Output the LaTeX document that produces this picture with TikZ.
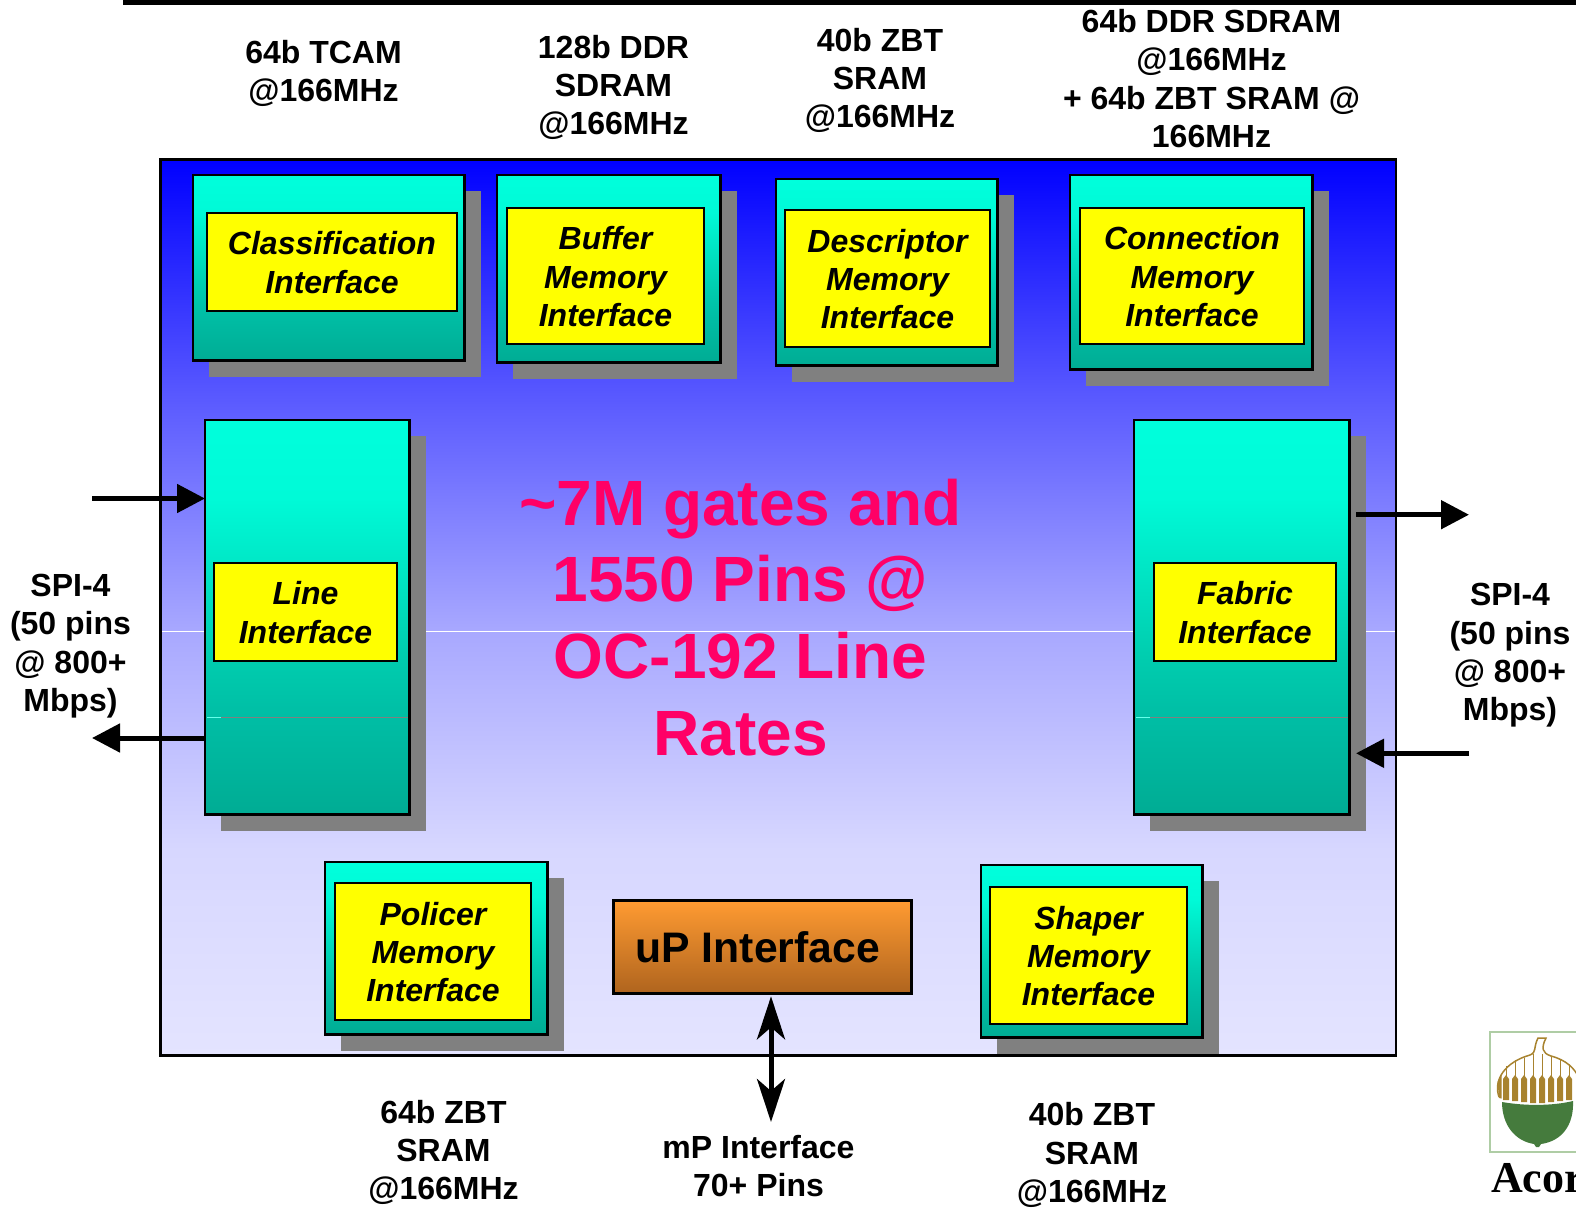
\documentclass[tikz,border=0pt]{standalone}
\usepackage{fontspec}
\setmainfont{Liberation Sans}
\newfontfamily\acornfont{Liberation Serif}
\usetikzlibrary{arrows.meta}
\definecolor{shadowgray}{RGB}{128,128,128}
\definecolor{pinkred}{RGB}{255,0,102}
\definecolor{acorngold}{RGB}{168,131,47}
\definecolor{acorngreen}{RGB}{69,123,61}
\definecolor{acornframe}{RGB}{175,205,165}
\definecolor{pureyellow}{RGB}{255,255,0}
\definecolor{tealtop}{RGB}{0,255,220}
\pgfdeclareverticalshading{tealshade}{100bp}{
 rgb(0bp)=(0,0.675,0.58);
 rgb(25bp)=(0,0.675,0.58);
 rgb(37.5bp)=(0,0.745,0.647);
 rgb(45bp)=(0,0.804,0.686);
 rgb(65bp)=(0,0.98,0.843);
 rgb(75bp)=(0,1,0.863);
 rgb(100bp)=(0,1,0.863)}
\pgfdeclareverticalshading{chipshade}{100bp}{
 rgb(0bp)=(0.894,0.894,1);
 rgb(25bp)=(0.894,0.894,1);
 rgb(36.5bp)=(0.843,0.843,1);
 rgb(48.7bp)=(0.659,0.659,1);
 rgb(61.6bp)=(0.353,0.353,1);
 rgb(75bp)=(0,0,1);
 rgb(100bp)=(0,0,1)}
\tikzset{
 x=1pt,y=-1pt,
 lab/.style={font=\fontsize{32}{38.4}\selectfont\bfseries,align=center,inner sep=0pt},
 bigtxt/.style={font=\fontsize{64}{76.8}\selectfont\bfseries,align=center,inner sep=0pt,text=pinkred},
 tealbox/.style={draw=black,line width=2.8pt,shading=tealshade,inner sep=0pt,outer sep=0pt},
 yellowbox/.style={draw=black,line width=2pt,fill=pureyellow,inner sep=0pt,outer sep=0pt,align=center,font=\fontsize{32}{38.4}\selectfont\bfseries\itshape},
 orangebox/.style={draw=black,line width=2.8pt,top color={rgb,255:red,255;green,155;blue,50},bottom color={rgb,255:red,175;green,100;blue,30},inner sep=0pt,outer sep=0pt,font=\fontsize{42.7}{51}\selectfont\bfseries},
 chipbox/.style={draw=black,line width=2.8pt,shading=chipshade,inner sep=0pt,outer sep=0pt},
 sigarrow/.style={line width=5pt,-{Triangle[length=28pt,width=28pt]}},
 dblarrow/.style={line width=5pt,{Stealth[length=43pt,width=28pt,inset=12pt]}-{Stealth[length=43pt,width=28pt,inset=12pt]}},
 hair/.style={line width=0.8pt},
}
% shadowed teal block: name, x0,y0,x1,y1
\newcommand\tealblk[5]{%
 \fill[shadowgray] (#2+16,#3+16) rectangle (#4+15.5,#5+15.5);
 \node[tealbox,minimum width={(#4-#2-0.5)*1pt},minimum height={(#5-#3-0.5)*1pt}] (#1) at ({(#2+#4-0.5)/2},{(#3+#5-0.5)/2}) {};
}
% yellow label: name, x0,y0,x1,y1, text
\newcommand\yellowblk[6]{%
 \node[yellowbox,minimum width={(#4-#2)*1pt},minimum height={(#5-#3)*1pt}] (#1) at ({(#2+#4)/2},{(#3+#5)/2}) {\rule{0pt}{24.4pt}#6};
}
\begin{document}
\begin{tikzpicture}
\useasboundingbox (0,0) rectangle (1576,1207);
\fill[white] (0,0) rectangle (1576,1207);
\fill[black] (123,0) rectangle (1576,5);

\node[chipbox,minimum width=1235.5pt,minimum height=896pt] (chip) at (778.25,607.5) {};
\draw[white,hair] (162,631) -- (1395,631);

\tealblk{classT}{193}{175}{465}{361}
\yellowblk{classY}{207}{213}{457}{311}{Classification\\Interface}
\tealblk{bufT}{497}{175}{721}{363}
\yellowblk{bufY}{507}{208}{704}{344}{Buffer\\Memory\\Interface}
\tealblk{descT}{776}{179}{998}{366}
\yellowblk{descY}{785}{210}{990}{347}{Descriptor\\Memory\\Interface}
\tealblk{connT}{1070}{175}{1313}{370}
\yellowblk{connY}{1080}{208}{1304}{344}{Connection\\Memory\\Interface}

\tealblk{lineT}{205}{420}{410}{815}
\draw[shadowgray,hair] (221,717) -- (408,717);
\draw[tealtop!60!white,hair] (207,717) -- (221,717);
\yellowblk{lineY}{214}{563}{397}{661}{Line\\Interface}
\tealblk{fabT}{1134}{420}{1350}{815}
\draw[shadowgray,hair] (1150,717) -- (1348,717);
\draw[tealtop!60!white,hair] (1136,717) -- (1150,717);
\yellowblk{fabY}{1154}{563}{1336}{661}{Fabric\\Interface}

\tealblk{polT}{325}{862}{548}{1035}
\yellowblk{polY}{335}{883}{531}{1020}{Policer\\Memory\\Interface}
\tealblk{shapT}{981}{865}{1203}{1038}
\yellowblk{shapY}{990}{887}{1187}{1024}{Shaper\\Memory\\Interface}
\node[orangebox,minimum width=298pt,minimum height=93pt] (upif) at (762.7,946.8) {\hspace*{-10pt}uP Interface};

\node[bigtxt] (gates) at (740.5,617.5) {\textasciitilde7M gates and\\1550 Pins @\\OC-192 Line\\Rates};

\node[lab] (t1) at (323.5,73.5) {64b TCAM\\@166MHz};
\node[lab] (t2) at (613.5,87.5) {128b DDR\\SDRAM\\@166MHz};
\node[lab] (t3) at (880,80.5) {40b ZBT\\SRAM\\@166MHz};
\node[lab] (t4) at (1211.5,78.5) {64b DDR SDRAM\\@166MHz\\+ 64b ZBT SRAM @\\166MHz};
\node[lab] (spil) at (70.5,646) {SPI-4\\(50 pins\\@ 800+\\Mbps)};
\node[lab] (spir) at (1510,655.5) {SPI-4\\(50 pins\\@ 800+\\Mbps)};
\node[lab] (b1) at (443.5,1152.5) {64b ZBT\\SRAM\\@166MHz};
\node[lab] (b2) at (758.5,1166) {mP Interface\\70+ Pins};
\node[lab] (b3) at (1092,1155) {40b ZBT\\SRAM\\@166MHz};

\coordinate (lin) at (92,498.5);
\coordinate (lout) at (92,738);
\coordinate (rout) at (1469,514.7);
\coordinate (rin) at (1469,753.3);
\coordinate (routs) at (1356,514.7);
\coordinate (rine) at (1356,753.3);
\coordinate (mpend) at (771,1122);
\draw[sigarrow] (lin) -- (lin -| lineT.west);
\draw[sigarrow] (lout -| lineT.west) -- (lout);
\draw[sigarrow] (routs) -- (rout);
\draw[sigarrow] (rin) -- (rine);
\draw[dblarrow] (mpend |- upif.south) ++(0,3) -- (mpend);

% acorn logo
\begin{scope}
\clip (0,0) rectangle (1576,1207);
\draw[acornframe,line width=1.5pt] (1576,1032) -- (1490,1032) -- (1490,1152) -- (1576,1152);
\fill[acorngreen] (1502,1102) .. controls (1525,1106) and (1552,1106) .. (1573,1101)
  .. controls (1574,1125) and (1562,1141) .. (1541,1144) -- (1539,1147) -- (1536,1147) -- (1534,1144)
  .. controls (1515,1141) and (1502,1125) .. (1502,1102) -- cycle;
\draw[acorngold,line width=1.5pt] (1499,1097) .. controls (1493,1080) and (1505,1062) .. (1530,1055)
  .. controls (1537,1052) and (1533,1048) .. (1538,1038) -- (1546,1038)
  .. controls (1541,1048) and (1542,1053) .. (1551,1056)
  .. controls (1566,1060) and (1575,1068) .. (1580,1080);
\foreach \bx/\topy/\boty in {1506/1066/1100,1515/1060/1101,1524/1058/1102,1533/1054/1103,1542/1054/1103,1551/1057/1102,1560/1060/1101,1569/1066/1100}{
  \draw[acorngold,line width=1pt] (\bx,\topy) -- (\bx,1078);
  \fill[acorngold] (\bx-3,1079) -- (\bx,1075) -- (\bx+3,1079) -- (\bx+3,\boty) -- (\bx-3,\boty) -- cycle;
}
\fill[acorngold] (1497.5,1082) -- (1501.5,1074) -- (1501.5,1098.5) -- (1499,1098) -- cycle;
\node[font=\acornfont\fontsize{44}{50}\selectfont\bfseries,anchor=base west,inner sep=0pt] (acorn) at (1491,1192) {Acorn};
\end{scope}
\end{tikzpicture}
\end{document}
